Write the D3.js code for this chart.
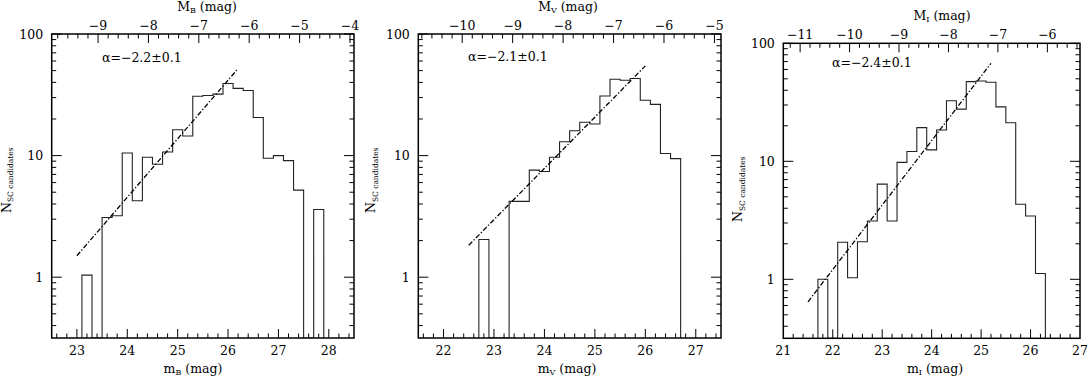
<!DOCTYPE html>
<html><head><meta charset="utf-8">
<script src="https://cdn.jsdelivr.net/npm/d3@7"></script>
<style>
body{margin:0;background:#fff}
svg{display:block}
text{font-family:"DejaVu Serif","Liberation Serif",serif;fill:#000}
</style>
</head><body>
<svg id="c" width="1088" height="376"></svg>
<script>
// ---------------- data ----------------
const binWidth = 0.2;
const bands = ["B", "V", "I"];

const binLoB = [23.1,23.3,23.5,23.7,23.9,24.1,24.3,24.5,24.7,24.9,25.1,25.3,25.5,25.7,25.9,26.1,26.3,26.5,26.7,26.9,27.1,27.3,27.5,27.7];
const countsB = [1.04,0,3.1,3.2,10.5,4.25,9.7,8.5,10.7,16.3,14.5,30.8,31.2,32.0,39.2,35.7,34.3,20.6,9.5,10.0,9.1,5.2,0,3.6];

const binLoV = [22.7,22.9,23.1,23.3,23.5,23.7,23.9,24.1,24.3,24.5,24.7,24.9,25.1,25.3,25.5,25.7,25.9,26.1,26.3,26.5];
const countsV = [2.04,0,0,4.2,4.2,7.6,7.4,9.7,13.0,16.0,18.8,18.2,30.9,42.5,41.7,43.0,28.5,26.4,10.4,9.45];

const binLoI = [21.7,21.9,22.1,22.3,22.5,22.7,22.9,23.1,23.3,23.5,23.7,23.9,24.1,24.3,24.5,24.7,24.9,25.1,25.3,25.5,25.7,25.9,26.1];
const countsI = [1.0,0,2.06,1.03,2.08,3.12,6.4,3.12,9.8,12.1,19.3,12.5,18.4,32.6,27.7,47.3,47.9,46.7,28.9,21.2,4.32,3.44,1.12];

// power-law fit lines (end points: apparent mag, N)
const fitMagB = [23.0, 26.2], fitNB = [1.5, 52];
const fitMagV = [22.5, 26.0], fitNV = [1.83, 54.7];
const fitMagI = [21.5, 25.2], fitNI = [0.645, 67.7];

const alphaLabels = ["α=−2.2±0.1", "α=−2.1±0.1", "α=−2.4±0.1"];
const distModulus = [32.42, 32.37, 32.34];
const magDomains = [[22.5, 28.5], [21.5, 27.5], [21, 27]];
const magTickLabels = [[23,24,25,26,27,28],[22,23,24,25,26,27],[21,22,23,24,25,26,27]];
const absTickLabels = [[-9,-8,-7,-6,-5,-4],[-10,-9,-8,-7,-6,-5],[-11,-10,-9,-8,-7,-6]];
const nDomain = [Math.pow(10,-0.5), 100];
const nTickLabels = [1, 10, 100];

// ---------------- layout ----------------
const layout = [
  {l:51.7, r:354, t:34, b:338, ylabX:10.5, ylabY:213, topTitleX:207, botTitleX:193, alphaX:102, alphaY:62, dy:0},
  {l:418.3, r:721, t:34, b:338, ylabX:375, ylabY:213, topTitleX:568, botTitleX:567, alphaX:468, alphaY:61, dy:0},
  {l:783.3, r:1080, t:43.3, b:338.3, ylabX:742, ylabY:222, topTitleX:942, botTitleX:935, alphaX:832, alphaY:67, dy:9}
];
const hist = [[binLoB,countsB],[binLoV,countsV],[binLoI,countsI]];
const fits = [[fitMagB,fitNB],[fitMagV,fitNV],[fitMagI,fitNI]];

const svg = d3.select("#c");
const FS = 12.5, FSsub = 8;
const minus = s => String(s).replace("-", "−");

layout.forEach((L, p) => {
  const x = d3.scaleLinear().domain(magDomains[p]).range([L.l, L.r]);
  const y = d3.scaleLog().domain(nDomain).range([L.b, L.t]);
  const g = svg.append("g");

  const clipId = "clip" + p;
  svg.append("clipPath").attr("id", clipId).append("rect")
    .attr("x", L.l).attr("y", L.t).attr("width", L.r - L.l).attr("height", L.b - L.t);

  // histogram outline
  const [lo, cnt] = hist[p];
  const yv = v => v > 0 ? y(v) : L.b;
  const pts = [[x(lo[0]), L.b]];
  lo.forEach((m, i) => { pts.push([x(m), yv(cnt[i])]); pts.push([x(m + binWidth), yv(cnt[i])]); });
  pts.push([x(lo[lo.length-1] + binWidth), L.b]);
  g.append("path").attr("clip-path", `url(#${clipId})`)
    .attr("d", d3.line()(pts)).attr("fill", "none").attr("stroke", "#222").attr("stroke-width", 1.1);

  // fit line
  const [fm, fn] = fits[p];
  g.append("path").attr("d", d3.line()(fm.map((m, i) => [x(m), y(fn[i])])))
    .attr("fill", "none").attr("stroke", "#000").attr("stroke-width", 1.3)
    .attr("stroke-dasharray", "5,2,1.3,2");

  // frame
  g.append("rect").attr("x", L.l).attr("y", L.t).attr("width", L.r - L.l).attr("height", L.b - L.t)
    .attr("fill", "none").attr("stroke", "#000").attr("stroke-width", 1.5);

  const ticks = g.append("g").attr("stroke", "#000").attr("stroke-width", 1);
  const MAJ = 9, MIN = 4.5;
  const d0 = magDomains[p];
  for (let k = Math.ceil(d0[0]*5); k <= Math.floor(d0[1]*5); k++) {
    const m = k / 5, len = (k % 5 === 0) ? MAJ : MIN, xx = x(m);
    if (xx <= L.l + 0.5 || xx >= L.r - 0.5) continue;
    ticks.append("line").attr("x1", xx).attr("x2", xx).attr("y1", L.b).attr("y2", L.b - len);
  }
  const DM = distModulus[p];
  const M0 = d0[0] - DM, M1 = d0[1] - DM;
  for (let k = Math.ceil(M0*5); k <= Math.floor(M1*5); k++) {
    const M = k / 5, len = (k % 5 === 0) ? MAJ : MIN, xx = x(M + DM);
    if (xx <= L.l + 0.5 || xx >= L.r - 0.5) continue;
    ticks.append("line").attr("x1", xx).attr("x2", xx).attr("y1", L.t).attr("y2", L.t + len);
  }
  const yt = [];
  [0.1, 1, 10].forEach(dec => { for (let j = 1; j <= 9; j++) yt.push(dec * j); });
  yt.push(100);
  yt.forEach(v => {
    if (v < nDomain[0] || v > nDomain[1]) return;
    const yy = y(v), len = nTickLabels.includes(+v.toPrecision(3)) ? MAJ + 1 : MIN;
    ticks.append("line").attr("x1", L.l).attr("x2", L.l + len).attr("y1", yy).attr("y2", yy);
    ticks.append("line").attr("x1", L.r).attr("x2", L.r - len).attr("y1", yy).attr("y2", yy);
  });

  // tick labels
  magTickLabels[p].forEach(m => {
    g.append("text").attr("x", x(m)).attr("y", 354.5).attr("text-anchor", "middle")
      .attr("font-size", FS).text(m);
  });
  absTickLabels[p].forEach(M => {
    g.append("text").attr("x", x(M + DM)).attr("y", 29.5 + L.dy).attr("text-anchor", "middle")
      .attr("font-size", FS).text(minus(M));
  });
  nTickLabels.forEach(v => {
    g.append("text").attr("x", L.l - 8.5).attr("y", y(v) + 4.5).attr("text-anchor", "end")
      .attr("font-size", FS).text(v);
  });

  // axis titles
  const bt = g.append("text").attr("x", L.botTitleX).attr("y", 373).attr("text-anchor", "middle").attr("font-size", FS);
  bt.append("tspan").text("m");
  bt.append("tspan").attr("font-size", FSsub).attr("dy", 2).text(bands[p]);
  bt.append("tspan").attr("dy", -2).text(" (mag)");

  const tt = g.append("text").attr("x", L.topTitleX).attr("y", 11 + L.dy).attr("text-anchor", "middle").attr("font-size", FS);
  tt.append("tspan").text("M");
  tt.append("tspan").attr("font-size", FSsub).attr("dy", 2).text(bands[p]);
  tt.append("tspan").attr("dy", -2).text(" (mag)");

  const yl = g.append("text").attr("transform", `translate(${L.ylabX},${L.ylabY}) rotate(-90)`)
    .attr("text-anchor", "start").attr("font-size", FS);
  yl.append("tspan").text("N");
  yl.append("tspan").attr("font-size", FSsub - 0.5).attr("dy", 2.5).text("SC candidates");

  // alpha label
  g.append("text").attr("x", L.alphaX).attr("y", L.alphaY).attr("font-size", FS).text(alphaLabels[p]);
});
</script>
</body></html>
